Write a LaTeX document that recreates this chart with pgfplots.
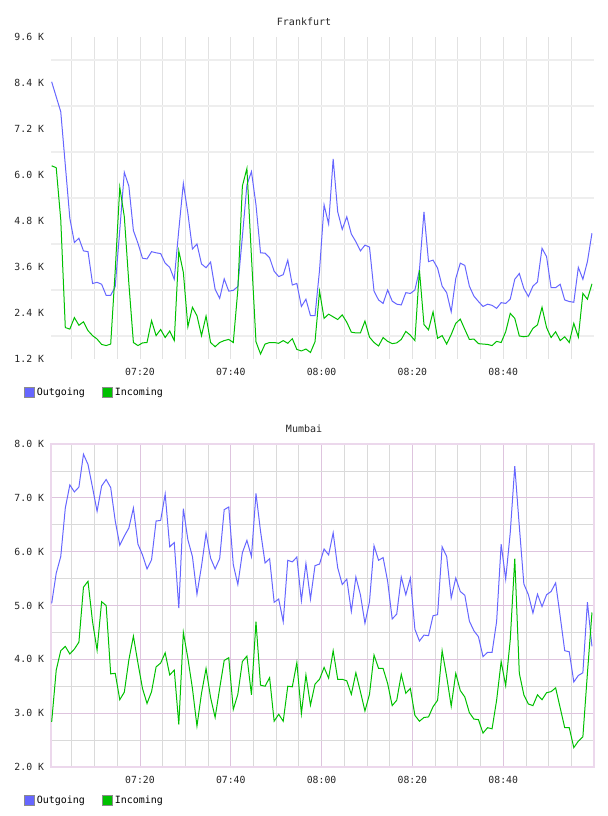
\documentclass[border=0pt]{standalone}
\usepackage{pgfplots}
\pgfplotsset{compat=1.18}
\usepackage{pgfplotstable}
\usepackage{fontspec}
\setmainfont{DejaVu Sans Mono}
\definecolor{outc}{RGB}{102,102,255}
\definecolor{inc}{RGB}{0,192,0}
\definecolor{hgrid}{RGB}{238,238,238}
\definecolor{vgrid}{RGB}{226,226,226}
\definecolor{pmaj}{RGB}{222,196,222}
\definecolor{pmin}{RGB}{218,218,218}
\definecolor{pframe}{RGB}{236,216,236}

\pgfplotstableread{
out in
8.43 6.24
8.04 6.19
7.65 4.83
6.26 2.02
4.87 1.98
4.24 2.28
4.35 2.08
4.02 2.17
4.00 1.94
3.17 1.81
3.20 1.72
3.15 1.58
2.86 1.55
2.86 1.59
3.09 3.52
4.57 5.68
6.07 4.91
5.71 3.17
4.55 1.63
4.22 1.55
3.83 1.62
3.81 1.63
4.00 2.20
3.97 1.81
3.95 1.97
3.70 1.76
3.59 1.93
3.28 1.68
4.57 4.02
5.78 3.46
5.00 2.04
4.07 2.55
4.20 2.33
3.68 1.81
3.58 2.32
3.73 1.63
3.02 1.52
2.78 1.63
3.29 1.68
2.97 1.71
2.99 1.63
3.09 3.00
4.39 5.71
5.74 6.17
6.09 3.87
5.22 1.65
3.97 1.33
3.96 1.59
3.84 1.63
3.49 1.63
3.35 1.61
3.40 1.68
3.78 1.61
3.13 1.73
3.17 1.45
2.57 1.41
2.76 1.46
2.33 1.37
2.33 1.65
3.52 2.97
5.22 2.26
4.72 2.37
6.42 2.30
5.04 2.23
4.58 2.35
4.91 2.16
4.46 1.90
4.26 1.88
4.02 1.88
4.17 2.19
4.12 1.77
2.97 1.63
2.74 1.54
2.65 1.76
3.00 1.66
2.71 1.60
2.63 1.62
2.61 1.71
2.93 1.92
2.91 1.82
3.00 1.68
3.52 3.52
5.04 2.10
3.74 1.96
3.78 2.43
3.57 1.74
3.10 1.81
2.93 1.59
2.43 1.84
3.30 2.13
3.70 2.24
3.64 1.97
3.10 1.71
2.84 1.72
2.70 1.60
2.57 1.59
2.63 1.58
2.60 1.55
2.52 1.66
2.67 1.63
2.65 1.91
2.76 2.39
3.28 2.26
3.43 1.80
3.04 1.78
2.83 1.80
3.10 2.00
3.21 2.09
4.09 2.55
3.87 2.02
3.06 1.76
3.06 1.91
3.15 1.68
2.74 1.78
2.70 1.63
2.68 2.13
3.59 1.77
3.28 2.91
3.74 2.76
4.48 3.16
}\frank

\pgfplotstableread{
out in
5.04 2.84
5.60 3.80
5.91 4.16
6.81 4.24
7.24 4.10
7.11 4.19
7.20 4.32
7.81 5.34
7.62 5.45
7.19 4.70
6.75 4.17
7.22 5.07
7.34 5.00
7.19 3.73
6.57 3.74
6.12 3.25
6.29 3.39
6.44 3.99
6.81 4.43
6.14 3.93
5.94 3.46
5.68 3.18
5.85 3.40
6.57 3.86
6.58 3.93
7.07 4.12
6.09 3.71
6.17 3.80
4.95 2.79
6.80 4.50
6.22 4.02
5.91 3.46
5.21 2.76
5.73 3.37
6.34 3.83
5.88 3.29
5.68 2.92
5.87 3.46
6.78 3.98
6.83 4.03
5.76 3.07
5.39 3.35
5.98 3.96
6.21 4.06
5.91 3.34
7.08 4.70
6.38 3.52
5.79 3.50
5.87 3.66
5.06 2.85
5.12 2.98
4.70 2.85
5.84 3.50
5.81 3.49
5.90 3.94
5.09 2.99
5.78 3.71
5.12 3.15
5.74 3.54
5.77 3.63
6.05 3.85
5.94 3.65
6.35 4.16
5.70 3.63
5.39 3.63
5.49 3.60
4.89 3.35
5.53 3.75
5.20 3.40
4.67 3.04
5.07 3.35
6.11 4.08
5.84 3.83
5.89 3.83
5.45 3.55
4.75 3.14
4.84 3.24
5.53 3.72
5.20 3.37
5.51 3.46
4.56 2.96
4.34 2.85
4.45 2.92
4.44 2.93
4.81 3.12
4.83 3.24
6.09 4.16
5.91 3.68
5.14 3.13
5.51 3.74
5.26 3.42
5.19 3.30
4.71 3.01
4.53 2.89
4.42 2.88
4.05 2.63
4.13 2.73
4.13 2.71
4.70 3.24
6.14 3.96
5.49 3.51
6.35 4.36
7.59 5.87
6.47 3.74
5.40 3.34
5.20 3.17
4.86 3.14
5.21 3.34
4.98 3.25
5.20 3.38
5.26 3.40
5.42 3.47
4.80 3.10
4.16 2.73
4.14 2.73
3.58 2.36
3.70 2.48
3.75 2.56
5.06 3.74
4.24 4.87
}\mumbai

\pgfplotsset{
  common/.style={
    scale only axis, width=543bp,
    xmin=0.4, xmax=120,
    xtick={20,40,60,80,100},
    xticklabels={07:20,07:40,08:00,08:20,08:40},
    minor xtick={5,10,15,25,30,35,45,50,55,65,70,75,85,90,95,105,110,115},
    tick style={draw=none},
    ticklabel style={font=\fontsize{9.8bp}{11bp}\selectfont, text=black!85},
    xticklabel style={yshift=-6bp},
    yticklabel style={xshift=-3.5bp},
    title style={font=\fontsize{10bp}{12bp}\selectfont, text=black!85, anchor=base, at={(axis description cs:0.466,1)}, yshift=6bp},
    legend columns=2,
    legend cell align=left,
    legend style={at={(axis description cs:-0.050,-0.1045)}, anchor=west, draw=none, fill=none,
      font=\fontsize{10bp}{11bp}\selectfont, inner xsep=0pt,
      /tikz/every even column/.append style={column sep=15bp}},
    legend image code/.code={\draw[#1, draw=black!45, line width=0.8bp] (0bp,-5bp) rectangle (10bp,5bp);},
  }
}

\begin{document}
\begin{tikzpicture}
\path[use as bounding box] (0,0) rectangle (608bp,816bp);

\begin{axis}[common,
  at={(51bp,457bp)}, anchor=south west, height=322bp,
  ymin=1.2, ymax=9.6,
  ytick={1.2,2.4,3.6,4.8,6.0,7.2,8.4,9.6},
  yticklabels={1.2 K,2.4 K,3.6 K,4.8 K,6.0 K,7.2 K,8.4 K,9.6 K},
  minor ytick={1.8,3.0,4.2,5.4,6.6,7.8,9.0},
  xmajorgrids, xminorgrids, yminorgrids,
  major x grid style={vgrid, line width=0.8bp},
  minor x grid style={vgrid, line width=0.8bp},
  minor y grid style={hgrid, line width=2bp},
  axis line style={draw=none},
  title={Frankfurt},
]
\addlegendimage{fill=outc}
\addlegendentry{Outgoing}
\addlegendimage{fill=inc}
\addlegendentry{Incoming}
\addplot[outc, line width=1bp, forget plot] table[x expr=\coordindex+0.55, y=out] {\frank};
\addplot[inc, line width=1bp, forget plot] table[x expr=\coordindex+0.55, y=in] {\frank};
\end{axis}

\begin{axis}[common,
  at={(51bp,49bp)}, anchor=south west, height=323bp,
  ymin=2, ymax=8,
  ytick={2,3,4,5,6,7,8},
  yticklabels={2.0 K,3.0 K,4.0 K,5.0 K,6.0 K,7.0 K,8.0 K},
  minor ytick={2.5,3.5,4.5,5.5,6.5,7.5},
  xmajorgrids, xminorgrids, ymajorgrids, yminorgrids,
  major x grid style={pmaj, line width=0.8bp},
  minor x grid style={pmin, line width=0.8bp},
  major y grid style={pmaj, line width=0.8bp},
  minor y grid style={pmin, line width=0.8bp},
  axis line style={pframe, line width=1.5bp},
  title={Mumbai},
]
\addlegendimage{fill=outc}
\addlegendentry{Outgoing}
\addlegendimage{fill=inc}
\addlegendentry{Incoming}
\addplot[outc, line width=1bp, forget plot] table[x expr=\coordindex+0.55, y=out] {\mumbai};
\addplot[inc, line width=1bp, forget plot] table[x expr=\coordindex+0.55, y=in] {\mumbai};
\end{axis}
\end{tikzpicture}
\end{document}
